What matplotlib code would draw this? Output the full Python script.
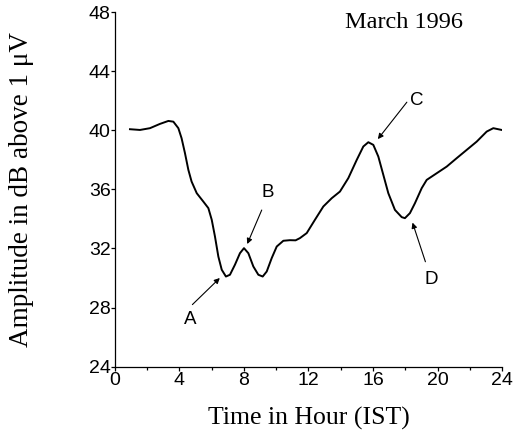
import matplotlib.pyplot as plt
from matplotlib.ticker import MultipleLocator

# signal amplitude
hours = [0.93, 1.55, 2.17, 2.79, 3.31, 3.62, 3.93, 4.13, 4.34, 4.55, 4.75, 5.07, 5.48,
         5.79, 6.0, 6.2, 6.41, 6.62, 6.88, 7.13, 7.44, 7.75, 8.0, 8.27, 8.58, 8.89,
         9.16, 9.41, 9.72, 10.03, 10.44, 10.85, 11.2, 11.47, 11.89, 12.4, 12.92,
         13.44, 13.95, 14.47, 14.99, 15.4, 15.71, 16.02, 16.33, 16.64, 16.95, 17.36,
         17.78, 17.98, 18.29, 18.6, 19.02, 19.33, 19.95, 20.57, 21.19, 21.81, 22.43,
         23.05, 23.46, 23.98]
amp = [40.07, 40.02, 40.14, 40.43, 40.63, 40.58, 40.14, 39.46, 38.45, 37.32, 36.53, 35.74,
       35.17, 34.73, 33.94, 32.81, 31.45, 30.56, 30.1, 30.22, 30.9, 31.68, 32.02, 31.68,
       30.78, 30.22, 30.1, 30.44, 31.35, 32.13, 32.52, 32.56, 32.55, 32.7, 33.04, 33.94,
       34.84, 35.4, 35.85, 36.76, 37.99, 38.9, 39.19, 39.01, 38.22, 36.98, 35.74, 34.61,
       34.12, 34.05, 34.39, 35.06, 36.08, 36.64, 37.09, 37.54, 38.11, 38.67, 39.23,
       39.91, 40.14, 40.02]

labels = ["A", "B", "C", "D"]
label_xy = [(4.65, 27.2), (9.5, 35.8), (18.7, 42.0), (19.6, 29.9)]
arrow_tail = [(4.8, 28.2), (9.1, 34.6), (18.1, 41.9), (19.25, 31.1)]
arrow_tip = [(6.5, 30.0), (8.2, 32.3), (16.3, 39.4), (18.45, 33.75)]

serif = ["Liberation Serif", "DejaVu Serif"]
sans = ["Liberation Sans", "DejaVu Sans"]

fig = plt.figure(figsize=(5.17, 4.30), dpi=100)
ax = fig.add_axes([0.2224, 0.1473, 0.7486, 0.8247])

ax.plot(hours, amp, color="black", lw=1.4, solid_joinstyle="round")

for lab, lxy, t, h in zip(labels, label_xy, arrow_tail, arrow_tip):
    ax.annotate("", xy=h, xytext=t,
                arrowprops=dict(arrowstyle="-|>", color="black", lw=0.8,
                                mutation_scale=8, shrinkA=0, shrinkB=0))
    ax.text(lxy[0], lxy[1], lab, ha="center", va="center", fontsize=13.5, family=sans)

ax.text(17.9, 47.3, "March 1996", ha="center", va="center", fontsize=17.5, family=serif)

ax.set_xlim(0, 24)
ax.set_ylim(24, 48)
ax.set_xticks(range(0, 25, 4))
ax.set_yticks(range(24, 49, 4))
ax.xaxis.set_minor_locator(MultipleLocator(2))
ax.tick_params(axis="both", which="major", direction="out", length=3, width=0.9, labelsize=14, pad=1)
ax.tick_params(axis="x", which="minor", direction="out", length=2, width=0.9)
ax.tick_params(axis="y", pad=0)
for lbl in ax.get_xticklabels() + ax.get_yticklabels():
    lbl.set_family(sans)

for s in ["top", "right"]:
    ax.spines[s].set_visible(False)
for s in ["left", "bottom"]:
    ax.spines[s].set_linewidth(0.9)

ax.set_xlabel("Time in Hour (IST)", fontsize=18.5, family=serif, labelpad=13)
ax.set_ylabel("Amplitude in dB above 1 \u03bcV", fontsize=19.5, family=serif)
ax.yaxis.set_label_coords(-0.21, 0.5)

fig.savefig("out.png", dpi=100)
